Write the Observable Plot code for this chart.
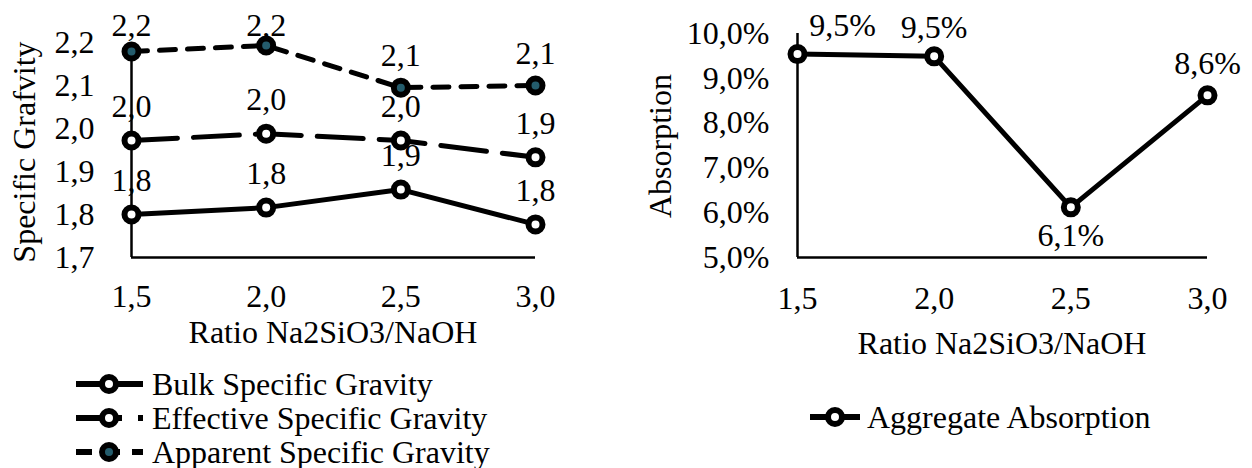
<!DOCTYPE html>
<html><head><meta charset="utf-8">
<script src="https://cdn.jsdelivr.net/npm/d3@7"></script>
<script src="https://cdn.jsdelivr.net/npm/@observablehq/plot@0.6"></script>
<style>
body{margin:0;background:#fff;}
#wrap{position:relative;width:1252px;height:468px;overflow:hidden;color:#000;background:#fff;font-family:'Liberation Serif', serif;}
.plot{position:absolute;top:0;}
.t{position:absolute;font-size:32px;white-space:nowrap;line-height:1;}
.c{transform:translate(-50%,-50%);}
.r{transform:translate(-50%,-50%) rotate(-90deg);}
.l{transform:translate(0,-50%);}
.sw{position:absolute;transform:translate(0,-50%);}
</style></head><body><div id="wrap"></div>
<script>
// ---- data ----
const ratios = [1.5, 2.0, 2.5, 3.0];
const bulkSG = [1.800, 1.816, 1.858, 1.777];
const effectiveSG = [1.972, 1.988, 1.972, 1.933];
const apparentSG = [2.179, 2.193, 2.095, 2.100];
const absorption = [0.0954, 0.0949, 0.0612, 0.0862];
const sgTicks = [1.7, 1.8, 1.9, 2.0, 2.1, 2.2];
const absTicks = [0.05, 0.06, 0.07, 0.08, 0.09, 0.10];
const xTitle = "Ratio Na2SiO3/NaOH";
const sgTitle = "Specific Grafvity";
const absTitle = "Absorption";
const seriesNames = ["Bulk Specific Gravity", "Effective Specific Gravity", "Apparent Specific Gravity"];
const absName = "Aggregate Absorption";

// ---- helpers ----
const FONT = "'Liberation Serif', 'Times New Roman', Tinos, Times, serif";
const fmt1 = v => d3.format(".1f")(v).replace(".", ",");
const pct1 = v => d3.format(".1%")(v).replace(".", ",");
const FS = 32;
const TEAL = "#245c6c";
const LW = 5;
const DASH_LONG = "46,16";
const DASH = "16,12";
const rows = ratios.map((r, i) => ({r, bulk: bulkSG[i], eff: effectiveSG[i], app: apparentSG[i], abs: absorption[i], i}));
const wrap = document.getElementById("wrap");
wrap.style.fontFamily = FONT;
const style = {fontFamily: FONT, fontSize: "32px", color: "#000", background: "transparent", overflow: "visible"};
const dotOpts = {r: 7, stroke: "black", strokeWidth: 6};
const txt = {fontSize: FS, fill: "black"};

function finish(svg, leftPx) {
  svg.classList.add("plot");
  svg.style.left = leftPx + "px";
  svg.style.fontFamily = FONT;
  wrap.appendChild(svg);
}

// ---- left chart ----
const left = Plot.plot({
  width: 600, height: 350,
  marginLeft: 131, marginRight: 65, marginTop: 42, marginBottom: 93,
  x: {domain: [ratios[0], ratios[ratios.length - 1]], label: null},
  y: {domain: [sgTicks[0], sgTicks[sgTicks.length - 1]], label: null},
  style,
  marks: [
    Plot.axisY({ticks: sgTicks, tickSize: 0, tickPadding: 37, tickFormat: fmt1, label: null, ...txt}),
    Plot.axisX({ticks: ratios, tickSize: 0, tickPadding: 27, tickFormat: fmt1, label: null, ...txt}),
    Plot.ruleX([ratios[0]], {y1: () => sgTicks[0], y2: () => sgTicks[sgTicks.length - 1], strokeWidth: 2.5}),
    Plot.ruleY([sgTicks[0]], {x1: () => ratios[0], x2: () => ratios[ratios.length - 1], strokeWidth: 2.5}),
    Plot.line(rows, {x: "r", y: "bulk", stroke: "black", strokeWidth: LW, strokeLinejoin: "round"}),
    Plot.line(rows, {x: "r", y: "eff", stroke: "black", strokeWidth: LW, strokeDasharray: DASH_LONG, strokeLinejoin: "round"}),
    Plot.line(rows, {x: "r", y: "app", stroke: "black", strokeWidth: LW, strokeDasharray: DASH, strokeLinejoin: "round"}),
    Plot.dot(rows, {x: "r", y: "bulk", fill: "white", ...dotOpts}),
    Plot.dot(rows, {x: "r", y: "eff", fill: "white", ...dotOpts}),
    Plot.dot(rows, {x: "r", y: "app", fill: TEAL, ...dotOpts}),
    Plot.text(rows, {x: "r", y: "bulk", text: d => fmt1(d.bulk), dy: -34, ...txt}),
    Plot.text(rows, {x: "r", y: "eff", text: d => fmt1(d.eff), dy: -34, ...txt}),
    // top labels kept inside the chart area, as the reference does
    Plot.text(rows.filter(d => d.i < 2), {x: "r", text: d => fmt1(d.app), frameAnchor: "top", lineAnchor: "middle", dy: -17, ...txt}),
    Plot.text(rows.filter(d => d.i >= 2), {x: "r", y: "app", text: d => fmt1(d.app), dy: -32, ...txt})
  ]
});
finish(left, 0);

// ---- right chart ----
const right = Plot.plot({
  width: 612, height: 350,
  marginLeft: 157, marginRight: 45, marginTop: 33, marginBottom: 93,
  x: {domain: [ratios[0], ratios[ratios.length - 1]], label: null},
  y: {domain: [absTicks[0], absTicks[absTicks.length - 1]], label: null},
  style,
  marks: [
    Plot.axisY({ticks: absTicks, tickSize: 0, tickPadding: 28, tickFormat: pct1, label: null, ...txt}),
    Plot.axisX({ticks: ratios, tickSize: 0, tickPadding: 29, tickFormat: fmt1, label: null, ...txt}),
    Plot.ruleX([ratios[0]], {y1: () => absTicks[0], y2: () => absTicks[absTicks.length - 1], strokeWidth: 2.5}),
    Plot.ruleY([absTicks[0]], {x1: () => ratios[0], x2: () => ratios[ratios.length - 1], strokeWidth: 2.5}),
    Plot.line(rows, {x: "r", y: "abs", stroke: "black", strokeWidth: LW, strokeLinejoin: "round"}),
    Plot.dot(rows, {x: "r", y: "abs", fill: "white", ...dotOpts}),
    Plot.text(rows.filter(d => d.i === 0), {x: "r", y: "abs", text: d => pct1(d.abs), dx: 45, dy: -28, ...txt}),
    Plot.text(rows.filter(d => d.i === 1), {x: "r", y: "abs", text: d => pct1(d.abs), dy: -29, ...txt}),
    Plot.text(rows.filter(d => d.i === 2), {x: "r", y: "abs", text: d => pct1(d.abs), dy: 28, ...txt}),
    Plot.text(rows.filter(d => d.i === 3), {x: "r", y: "abs", text: d => pct1(d.abs), dy: -32, ...txt})
  ]
});
finish(right, 640);

// ---- titles ----
function addText(t, x, y, cls) {
  const d = document.createElement("div");
  d.className = "t " + cls;
  d.style.left = x + "px";
  d.style.top = y + "px";
  d.style.fontFamily = FONT;
  d.textContent = t;
  wrap.appendChild(d);
}
addText(xTitle, 333, 332, "c");
addText(xTitle, 1002, 343, "c");
addText(sgTitle, 24, 152, "r");
addText(absTitle, 660, 146, "r");

// ---- legends ----
function swatch(x, y, w, cx, dash, fill) {
  const ns = "http://www.w3.org/2000/svg";
  const s = document.createElementNS(ns, "svg");
  s.setAttribute("width", w + 12);
  s.setAttribute("height", 24);
  s.setAttribute("class", "sw");
  s.style.left = x + "px";
  s.style.top = y + "px";
  s.innerHTML = `<line x1="0" y1="12" x2="${w}" y2="12" stroke="black" stroke-width="${LW + 1}" ${dash ? `stroke-dasharray="${dash}"` : ""}/>` +
    `<circle cx="${cx}" cy="12" r="7" fill="${fill}" stroke="black" stroke-width="6"/>`;
  wrap.appendChild(s);
}
const legendDash = [null, DASH_LONG, DASH];
const legendFill = ["white", "white", TEAL];
seriesNames.forEach((name, k) => {
  const y = 384 + k * 34;
  swatch(76, y, 67, 33, legendDash[k], legendFill[k]);
  addText(name, 152, y, "l");
});
swatch(810, 417, 50, 25, null, "white");
addText(absName, 867, 417, "l");
</script>
</body></html>
